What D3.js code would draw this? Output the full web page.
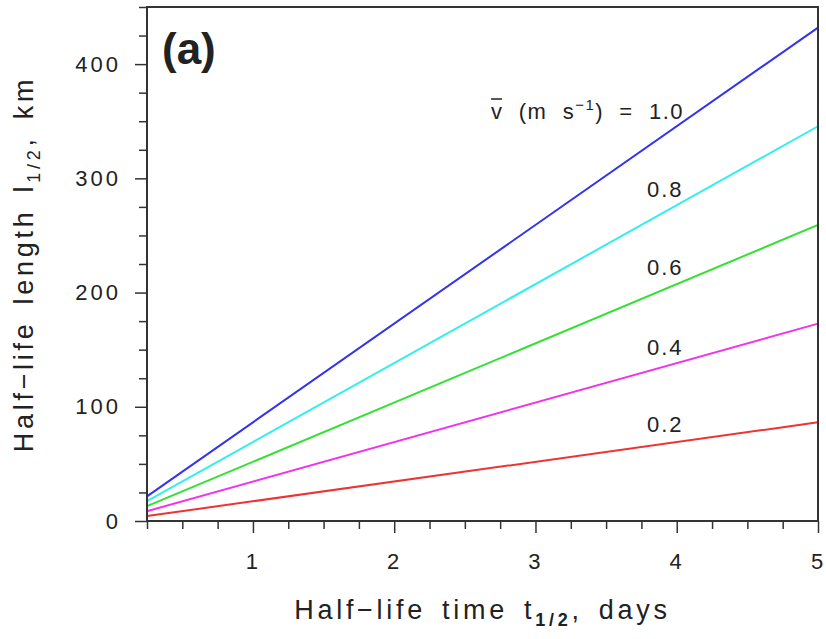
<!DOCTYPE html>
<html>
<head>
<meta charset="utf-8">
<script src="https://cdn.jsdelivr.net/npm/d3@7"></script>
<style>
  body { margin: 0; background: #fff; }
  text { font-family: "Liberation Sans", Arial, sans-serif; fill: #222; }
</style>
</head>
<body>
<svg id="chart" width="826" height="639"></svg>
<script>
// mean speed of each line, m/s
const speeds = [0.2, 0.4, 0.6, 0.8, 1.0]
const speedLabels = ['0.2', '0.4', '0.6', '0.8', '1.0']
// half-life time at both ends of the lines, days
const times = [0.25, 5]
// half-life length at t = 0.25 and t = 5, km
const lengthStart = [4.3, 8.6, 13.0, 17.3, 21.6]
const lengthEnd = [86.4, 172.8, 259.2, 345.6, 432.0]
const colors = ['#ee3333', '#ee33ee', '#33e033', '#33eeee', '#3333ee']
const xTicks = [1, 2, 3, 4, 5]
const yTicks = [0, 100, 200, 300, 400]

const svg = d3.select('#chart')
const plotLeft = 147, plotRight = 818, plotTop = 7, plotBottom = 521

const x = d3.scaleLinear().domain([0.25, 5]).range([plotLeft, plotRight])
const y = d3.scaleLinear().domain([0, 450]).range([plotBottom, plotTop])

// minor ticks
const xMinor = d3.range(0.25, 5.001, 0.25).filter(d => !xTicks.includes(d))
const yMinor = d3.range(0, 450.1, 25).filter(d => !yTicks.includes(d))

svg.append('g').attr('transform', `translate(0, ${plotBottom})`)
    .call(d3.axisBottom(x).tickValues(xMinor).tickSize(8).tickFormat(''))
svg.append('g').attr('class', 'major').attr('transform', `translate(0, ${plotBottom})`)
    .call(d3.axisBottom(x).tickValues(xTicks).tickSize(12).tickPadding(20).tickFormat(d3.format('d')))

svg.append('g').attr('transform', `translate(${plotLeft}, 0)`)
    .call(d3.axisLeft(y).tickValues(yMinor).tickSize(8).tickFormat(''))
svg.append('g').attr('class', 'major').attr('transform', `translate(${plotLeft}, 0)`)
    .call(d3.axisLeft(y).tickValues(yTicks).tickSize(12).tickPadding(14).tickFormat(d3.format('d')))

svg.selectAll('.domain').remove()
svg.selectAll('.tick line').attr('stroke', '#333').attr('stroke-width', 1.5)
svg.selectAll('.tick text')
    .style('font-family', '"Liberation Sans", Arial, sans-serif')
    .style('font-size', '22px')
    .style('letter-spacing', '3px')
    .attr('fill', '#222')

// lines
const line = d3.line().x(d => x(d[0])).y(d => y(d[1]))
const lines = speeds.map((v, i) => [[times[0], lengthStart[i]], [times[1], lengthEnd[i]]])

svg.append('g')
    .selectAll('path')
    .data(lines)
    .enter()
    .append('path')
        .attr('d', line)
        .attr('fill', 'none')
        .attr('stroke', (d, i) => colors[i])
        .attr('stroke-width', 2)

// frame
svg.append('rect')
    .attr('x', plotLeft).attr('y', plotTop)
    .attr('width', plotRight - plotLeft).attr('height', plotBottom - plotTop)
    .attr('fill', 'none')
    .attr('stroke', '#333')
    .attr('stroke-width', 2)

// line labels
const labelY = [432, 355, 275, 197]
const labelFont = 22
svg.append('g')
    .selectAll('text')
    .data(speedLabels.slice(0, 4))
    .enter()
    .append('text')
        .attr('x', 647)
        .attr('y', (d, i) => labelY[i])
        .style('font-size', labelFont + 'px')
        .style('letter-spacing', '2px')
        .text(d => d)

const topLabel = svg.append('text')
    .attr('x', 684).attr('y', 119)
    .attr('text-anchor', 'end')
    .style('font-size', labelFont + 'px')
    .style('letter-spacing', '1.5px')
    .style('white-space', 'pre')
topLabel.append('tspan').text('v')
topLabel.append('tspan').text('  (m  s')
topLabel.append('tspan').attr('dy', -9).style('font-size', '15px').text('\u22121')
topLabel.append('tspan').attr('dy', 9).text(')  =  ' + speedLabels[4])
// overbar on v
const vStart = topLabel.node().getStartPositionOfChar(0)
const vEnd = topLabel.node().getEndPositionOfChar(0)
svg.append('line')
    .attr('x1', vStart.x).attr('x2', vEnd.x - 1.5)
    .attr('y1', 99).attr('y2', 99)
    .attr('stroke', '#222').attr('stroke-width', 1.5)

// panel letter
svg.append('text')
    .attr('x', 162).attr('y', 64)
    .style('font-size', '44px')
    .style('font-weight', 'bold')
    .text('(a)')

// axis titles
const xt = svg.append('text')
    .attr('x', (plotLeft + plotRight) / 2).attr('y', 619)
    .attr('text-anchor', 'middle')
    .style('font-size', '27px')
    .style('letter-spacing', '3.7px')
    .style('word-spacing', '5px')
xt.append('tspan').text('Half\u2212life time t')
xt.append('tspan').attr('dy', 7).style('font-size', '18px').style('font-weight', 'bold').text('1/2')
xt.append('tspan').attr('dy', -7).text(', days')

const yt = svg.append('text')
    .attr('transform', `translate(33, ${(plotTop + plotBottom) / 2}) rotate(-90)`)
    .attr('text-anchor', 'middle')
    .style('font-size', '27px')
    .style('letter-spacing', '3.7px')
    .style('word-spacing', '5px')
yt.append('tspan').text('Half\u2212life length l')
yt.append('tspan').attr('dy', 7).style('font-size', '18px').text('1/2')
yt.append('tspan').attr('dy', -7).text(', km')
</script>
</body>
</html>
